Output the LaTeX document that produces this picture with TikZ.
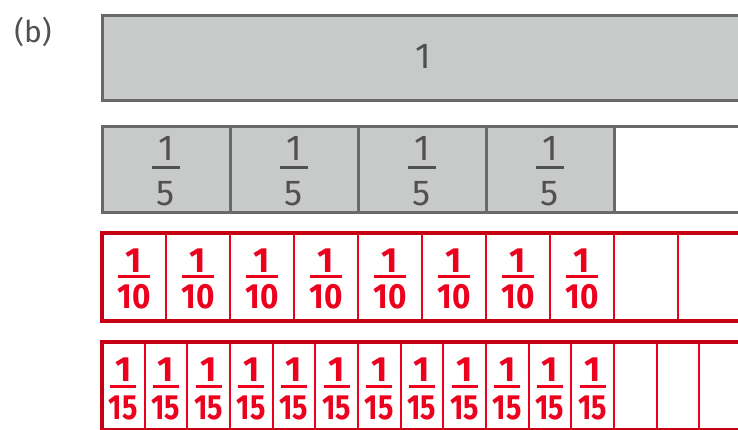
\documentclass[tikz,border=0pt]{standalone}
\usepackage{fontspec}
\setmainfont{Fira Sans}
\definecolor{barfill}{RGB}{200,201,201}
\definecolor{barline}{RGB}{105,105,105}
\definecolor{fred}{RGB}{236,0,30}
\definecolor{dred}{RGB}{200,0,22}
\definecolor{lab}{RGB}{80,80,80}
\tikzset{
  greybox/.style={draw=barline, line width=3pt, fill=barfill, inner sep=0pt, outer sep=0pt, anchor=north west},
  whitebox/.style={greybox, fill=white},
  redcell/.style={draw=fred, line width=1.8pt, fill=white, inner sep=0pt, outer sep=0pt, anchor=north west},
  redframe/.style={draw=dred, line width=3.5pt, inner sep=0pt, outer sep=0pt, anchor=north west},
  gtxt/.style={text=lab, font=\fontsize{36}{36}\selectfont, inner sep=0pt, anchor=base},
  rtxt/.style={text=fred, font=\bfseries\fontsize{35}{35}\selectfont, inner sep=0pt, anchor=base},
  gbar/.style={fill=lab, minimum height=3pt, minimum width=28pt, inner sep=0pt},
  rbar/.style={fill=fred, minimum height=3pt, inner sep=0pt},
}
\begin{document}
\begin{tikzpicture}[x=1pt,y=-1pt]
\useasboundingbox (0,0) rectangle (738,429);
\clip (0,0) rectangle (738,429);
% label
\node[text=lab, font=\fontsize{30}{30}\selectfont, inner sep=0pt, anchor=base] (lbl) at (33,42) {(b)};
% row 1
\node[greybox, minimum width=640pt, minimum height=85pt] (whole) at (102,15) {};
\node[gtxt] (one) at (423,68) {1};
% row 2: fifths
\foreach \i in {0,...,4} {
  \pgfmathsetmacro\xx{102+128*\i}
  \ifnum\i<4
    \node[greybox, minimum width=128pt, minimum height=86pt] (r2c\i) at (\xx,126) {};
  \else
    \node[whitebox, minimum width=128pt, minimum height=86pt] (r2c\i) at (\xx,126) {};
  \fi
}
\foreach \i in {0,...,3} {
  \pgfmathsetmacro\cx{166+128*\i}
  \node[gtxt] (r2n\i) at (\cx,160) {1};
  \node[gbar] (r2b\i) at (\cx,167.5) {};
  \node[gtxt] (r2d\i) at (\cx,205.5) {5};
}
% row 3: tenths
\foreach \i in {0,...,9} {
  \pgfmathsetmacro\xx{102+64*\i}
  \node[redcell, minimum width=64pt, minimum height=88pt] (r3c\i) at (\xx,233) {};
}
\foreach \i in {0,...,7} {
  \pgfmathsetmacro\cx{134+64*\i}
  \node[rtxt] (r3n\i) at (\cx,272) {1};
  \node[rbar, minimum width=32pt] (r3b\i) at (\cx,276.5) {};
  \node[rtxt] (r3d\i) at (\cx,308.5) {\scalebox{0.9}[1]{10}};
}
\node[redframe, minimum width=640pt, minimum height=88pt] (f3) at (102,233) {};
% row 4: fifteenths
\foreach \i in {0,...,14} {
  \pgfmathsetmacro\xx{102+42.667*\i}
  \node[redcell, minimum width=42.667pt, minimum height=88pt] (r4c\i) at (\xx,342) {};
}
\foreach \i in {0,...,11} {
  \pgfmathsetmacro\cx{123.33+42.667*\i}
  \node[rtxt] (r4n\i) at (\cx,381) {1};
  \node[rbar, minimum width=26pt] (r4b\i) at (\cx,386.5) {};
  \node[rtxt] (r4d\i) at (\cx,419.5) {\scalebox{0.82}[1]{15}};
}
\node[redframe, minimum width=640pt, minimum height=88pt] (f4) at (102,342) {};
\end{tikzpicture}
\end{document}
